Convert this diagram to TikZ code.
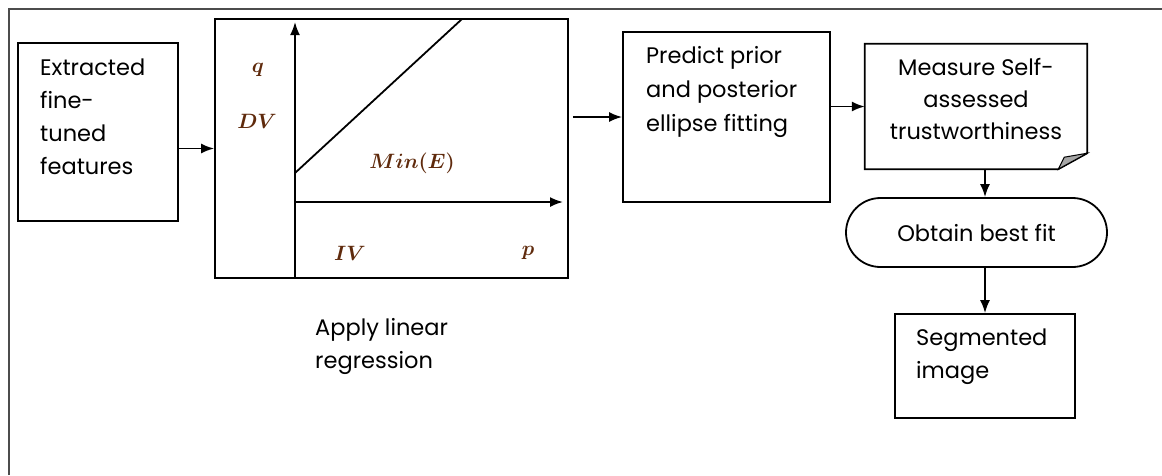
\documentclass[tikz,border=0pt]{standalone}
\usepackage{fontspec}
\setmainfont{Poppins}
\usetikzlibrary{arrows.meta,shapes.misc}
\definecolor{varbrown}{RGB}{95,42,12}

\begin{document}
\begin{tikzpicture}[
  x=1pt, y=-1pt,
  every node/.style={inner sep=0pt},
  box/.style={draw, line width=1.8pt},
  term/.style={rounded rectangle, draw, line width=1.8pt, minimum width=261, minimum height=69, font=\fontsize{22.5}{33}\selectfont},
  txt/.style={anchor=base west, align=left, font=\fontsize{22.5}{33}\selectfont},
  var/.style={anchor=base, text=varbrown, font=\fontsize{20}{24}\selectfont\boldmath},
  arrow/.style={draw, line width=1.8pt, -{Latex[length=13pt, width=10pt]}},
  plain/.style={draw, line width=1.8pt}]

  \useasboundingbox (0,0) rectangle (1162,475);
  \draw[line width=2.5pt, black!70] (9,475) -- (9,9) -- (1162,9);

  \node[box, minimum width=160, minimum height=178] (feat) at (98,132) {};
  \node[box, minimum width=353, minimum height=259] (reg)  at (391.5,148.5) {};
  \node[box, minimum width=207, minimum height=170] (pred) at (726.5,117) {};
  \node[minimum width=222, minimum height=125]      (doc)  at (976,106.5) {};
  \node[term] (best) at (976.5,232.5) {Obtain best fit};
  \node[box, minimum width=180, minimum height=104] (seg)  at (985,366) {};

  % document shape with folded corner
  \draw[box] (doc.north west) -- (doc.north east) -- ([yshift=16pt]doc.south east)
    -- ([xshift=-29pt]doc.south east) -- (doc.south west) -- cycle;
  \filldraw[fill=black!35, line width=1pt] ([xshift=-29pt]doc.south east)
    -- ([xshift=-23pt, yshift=12pt]doc.south east) -- ([yshift=16pt]doc.south east) -- cycle;

  % texts, placed by the baseline of their last line
  \node[txt] (featT) at (40,174) {Extracted\\fine-\\tuned\\features};
  \node[txt] (regT)  at (315,368) {Apply linear\\regression};
  \node[txt, font=\fontsize{22.5}{34}\selectfont] (predT) at (646,131) {Predict prior\\and posterior\\ellipse fitting};
  \node[txt, anchor=base, align=center, font=\fontsize{22.5}{32}\selectfont] (docT) at (976,139) {Measure Self-\\assessed\\trustworthiness};
  \node[txt] (segT)  at (916,378) {Segmented\\image};

  % regression plot
  \coordinate (o)    at (295,202);
  \coordinate (ybot) at (295,278);
  \coordinate (ytop) at (295,22);
  \coordinate (xend) at (563,202);
  \coordinate (fitA) at (295,173);
  \coordinate (fitB) at (462,19);
  \draw[arrow] (ybot) -- (ytop);
  \draw[arrow] (o) -- (xend);
  \draw[plain] (fitA) -- (fitB);

  \node[var] (q)    at (258,72)  {$q$};
  \node[var] (dv)   at (257,128) {$DV$};
  \node[var] (mine) at (412,168) {$Min(E)$};
  \node[var] (iv)   at (350,260) {$IV$};
  \node[var] (p)    at (528,255) {$p$};

  \draw[arrow] (feat.east |- reg.west) -- (reg.west);
  \draw[arrow, shorten <=4pt] (reg.east |- pred.west) -- (pred.west);
  \draw[arrow] (pred.east |- doc.west) -- (doc.west);
  \draw[arrow] (doc.south -| seg.north) -- (best.north -| seg.north);
  \draw[arrow] (best.south -| seg.north) -- (seg.north);

\end{tikzpicture}
\end{document}
